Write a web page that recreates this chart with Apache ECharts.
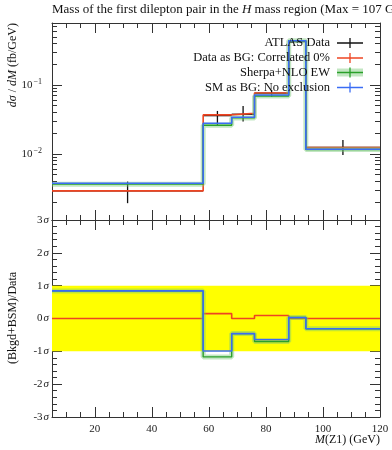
<!DOCTYPE html>
<html><head><meta charset="utf-8">
<script src="https://cdn.jsdelivr.net/npm/echarts@6/dist/echarts.min.js"></script>
<style>html,body{margin:0;padding:0;background:#fff}#c{width:392px;height:450px}</style>
</head><body><div id="c"></div>
<script>
// ---- data ----
const binEdges = [5, 58, 68, 76, 88, 94, 120];
const dataCentres = [31.5, 63, 72, 82, 91, 107];
const dataVals = [0.00291, 0.0359, 0.0376, 0.0758, 0.425, 0.0124];
const dataHi   = [0.00397, 0.0420, 0.0496, 0.0846, 0.445, 0.0159];
const dataLo   = [0.00193, 0.0263, 0.0294, 0.0677, 0.405, 0.00966];
const redVals   = [0.00291, 0.0368, 0.0389, 0.0765, 0.438, 0.01233];
const greenVals = [0.00364, 0.0261, 0.0333, 0.0693, 0.438, 0.0116];
const blueVals  = [0.00376, 0.0279, 0.0341, 0.0716, 0.438, 0.0117];
const redRatio   = [0, 0.15, 0, 0.09, 0, 0];
const greenRatio = [0.84, -1.17, -0.46, -0.70, 0.03, -0.31];
const blueRatio  = [0.84, -0.99, -0.46, -0.64, 0.03, -0.31];
const xMajorTicks = [20, 40, 60, 80, 100, 120];
const yMajorTicksLog = [0.01, 0.1];
const yMajorTicksRatio = [-3, -2, -1, 0, 1, 2, 3];
const legendNames = ['ATLAS Data', 'Data as BG: Correlated 0%', 'Sherpa+NLO EW', 'SM as BG: No exclusion'];

const xMinorTicks = [];
for (let v = 5; v <= 120; v += 5) if (xMajorTicks.indexOf(v) < 0) xMinorTicks.push(v);
const yMinorTicksLog = [];
[0.001, 0.01, 0.1].forEach(d => { for (let k = 2; k <= 9; k++) { const v = d * k; if (v < 0.79 && v > 0.0011) yMinorTicksLog.push(+v.toPrecision(3)); } });
const yMinorTicksRatio = [];
for (let i = -15; i <= 15; i++) if (i % 5 !== 0) yMinorTicksRatio.push(i / 5);

const RED = '#ee4422', BLUE = '#3a6cf4', GREEN = '#2aa02a', LGREEN = 'rgba(120,200,120,0.45)';
const FRAME = '#333';
const FONT = 'Liberation Serif';

function stepData(vals) {
  return binEdges.map((e, i) => [e, vals[Math.min(i, vals.length - 1)]]);
}

function xAx(grid, pos, ticks, len, line, labels) {
  return {
    gridIndex: grid, type: 'value', min: 5, max: 120, position: pos,
    axisLine: { show: line, onZero: false, lineStyle: { color: FRAME, width: 1 } },
    axisTick: { show: true, inside: true, length: len, customValues: ticks, lineStyle: { color: FRAME, width: 1 } },
    axisLabel: labels ? { show: true, customValues: xMajorTicks, color: '#222', fontFamily: FONT, fontSize: 11, margin: 7 } : { show: false },
    splitLine: { show: false }
  };
}
function yLogAx(pos, ticks, len, line, labels) {
  return {
    gridIndex: 0, type: 'log', logBase: 10, min: 0.0011, max: 0.792, position: pos,
    axisLine: { show: line, lineStyle: { color: FRAME, width: 1 } },
    axisTick: { show: true, inside: true, length: len, customValues: ticks, lineStyle: { color: FRAME, width: 1 } },
    axisLabel: labels ? {
      show: true, customValues: yMajorTicksLog, margin: 10, color: '#222', fontFamily: FONT,
      formatter: v => '{b|10}{s|\u2212' + Math.abs(Math.round(Math.log10(v))) + '}',
      rich: { b: { fontSize: 11, fontFamily: FONT, color: '#222' }, s: { fontSize: 8, fontFamily: FONT, color: '#222', padding: [0, 0, 7, 1] } }
    } : { show: false },
    splitLine: { show: false }
  };
}
function yRatAx(pos, ticks, len, line, labels) {
  return {
    gridIndex: 1, type: 'value', min: -3, max: 3, position: pos,
    axisLine: { show: line, onZero: false, lineStyle: { color: FRAME, width: 1 } },
    axisTick: { show: true, inside: true, length: len, customValues: ticks, lineStyle: { color: FRAME, width: 1 } },
    axisLabel: labels ? {
      show: true, customValues: yMajorTicksRatio, margin: 3, color: '#222',
      formatter: v => '{n|' + (v < 0 ? '-' : '') + Math.abs(v) + '}{i|\u03c3}',
      rich: { n: { fontSize: 11, fontFamily: FONT, color: '#222' }, i: { fontSize: 11, fontFamily: FONT, fontStyle: 'italic', color: '#222', padding: [0, 0, 0, 1] } }
    } : { show: false },
    splitLine: { show: false }
  };
}

const xAxes = [
  xAx(0, 'bottom', xMajorTicks, 10, true, false),
  xAx(0, 'bottom', xMinorTicks, 5, false, false),
  xAx(0, 'top', xMajorTicks, 10, true, false),
  xAx(0, 'top', xMinorTicks, 5, false, false),
  xAx(1, 'bottom', xMajorTicks, 10, true, true),
  xAx(1, 'bottom', xMinorTicks, 5, false, false),
  xAx(1, 'top', xMajorTicks, 10, true, false),
  xAx(1, 'top', xMinorTicks, 5, false, false)
];
const yAxes = [
  yLogAx('left', yMajorTicksLog, 10, true, true),
  yLogAx('left', yMinorTicksLog, 5, false, false),
  yLogAx('right', yMajorTicksLog, 10, true, false),
  yLogAx('right', yMinorTicksLog, 5, false, false),
  yRatAx('left', yMajorTicksRatio, 10, true, true),
  yRatAx('left', yMinorTicksRatio, 5, false, false),
  yRatAx('right', yMajorTicksRatio, 10, true, false),
  yRatAx('right', yMinorTicksRatio, 5, false, false)
];

function stepSeries(vals, color, xi, yi, width, z) {
  return {
    type: 'line', xAxisIndex: xi, yAxisIndex: yi, step: 'end', data: stepData(vals),
    symbol: 'none', lineStyle: { color: color, width: width }, z: z, silent: true
  };
}

const errData = dataCentres.map((c, i) => [c, dataVals[i], dataLo[i], dataHi[i], binEdges[i], binEdges[i + 1]]);

const series = [
  {
    type: 'custom', xAxisIndex: 0, yAxisIndex: 0, data: errData, z: 3,
    renderItem: (params, api) => {
      const xc = api.value(0), y = api.value(1), lo = api.value(2), hi = api.value(3), xl = api.value(4), xr = api.value(5);
      const pLo = api.coord([xc, lo]), pHi = api.coord([xc, hi]);
      const pL = api.coord([xl, y]), pR = api.coord([xr, y]);
      const st = { stroke: '#111', lineWidth: 1.3 };
      return { type: 'group', children: [
        { type: 'line', shape: { x1: pLo[0], y1: pLo[1], x2: pHi[0], y2: pHi[1] }, style: st },
        { type: 'line', shape: { x1: pL[0], y1: pL[1], x2: pR[0], y2: pR[1] }, style: st }
      ] };
    }
  },
  stepSeries(redVals, RED, 0, 0, 1.6, 4),
  stepSeries(greenVals, LGREEN, 0, 0, 5, 5),
  stepSeries(greenVals, GREEN, 0, 0, 1.4, 6),
  stepSeries(blueVals, BLUE, 0, 0, 1.6, 7),
  Object.assign(stepSeries(redRatio, RED, 4, 4, 1.6, 4), {
    markArea: { silent: true, itemStyle: { color: '#ffff00', opacity: 1 }, data: [[{ yAxis: -1 }, { yAxis: 1 }]] }
  }),
  stepSeries(greenRatio, LGREEN, 4, 4, 5, 5),
  stepSeries(greenRatio, GREEN, 4, 4, 1.4, 6),
  stepSeries(blueRatio, BLUE, 4, 4, 1.6, 7)
];

// legend + text
const legY = [43, 58, 72.5, 87.5];
const legColors = ['#111', RED, GREEN, BLUE];
const graphic = [
  { type: 'text', left: 52, top: 3, style: { text: '{n|Mass of the first dilepton pair in the }{i|H}{n| mass region (Max = 107 GeV)}',
      rich: { n: { fontSize: 13, fontFamily: FONT, fill: '#111' }, i: { fontSize: 13, fontFamily: FONT, fontStyle: 'italic', fill: '#111' } } } },
  { type: 'text', x: 13, y: 23, rotation: Math.PI / 2, style: { text: '{i|d\u03c3} / {i|dM} {n|(fb/GeV)}', align: 'right', verticalAlign: 'middle',
      font: '12px "' + FONT + '"', fill: '#111',
      rich: { i: { fontSize: 12, fontFamily: FONT, fontStyle: 'italic', fill: '#111' }, n: { fontSize: 12, fontFamily: FONT, fill: '#111' } } } },
  { type: 'text', x: 13, y: 318, rotation: Math.PI / 2, style: { text: '(Bkgd+BSM)/Data', align: 'center', verticalAlign: 'middle',
      font: '12px "' + FONT + '"', fill: '#111' } },
  { type: 'text', x: 380, y: 440, style: { text: '{i|M}{n|(Z1) (GeV)}', align: 'right', verticalAlign: 'middle',
      rich: { i: { fontSize: 12, fontFamily: FONT, fontStyle: 'italic', fill: '#111' }, n: { fontSize: 12, fontFamily: FONT, fill: '#111' } } } }
];
legendNames.forEach((name, i) => {
  const y = legY[i];
  graphic.push({ type: 'text', x: 330, y: y, z: 20, style: { text: name, align: 'right', verticalAlign: 'middle', font: '12.5px "' + FONT + '"', fill: '#111' } });
  if (i === 2) graphic.push({ type: 'rect', z: 20, shape: { x: 337, y: y - 4, width: 26, height: 8 }, style: { fill: LGREEN } });
  graphic.push({ type: 'line', z: 21, shape: { x1: 337, y1: y, x2: 363, y2: y }, style: { stroke: legColors[i], lineWidth: 1.5 } });
  graphic.push({ type: 'line', z: 21, shape: { x1: 350, y1: y - 5, x2: 350, y2: y + 5 }, style: { stroke: legColors[i], lineWidth: 1.3 } });
});

const chart = echarts.init(document.getElementById('c'), null, { renderer: 'canvas' });
chart.setOption({
  animation: false,
  backgroundColor: '#fff',
  grid: [{ left: 52, right: 12, top: 23, height: 197 }, { left: 52, right: 12, top: 220, height: 197 }],
  xAxis: xAxes, yAxis: yAxes, series: series, graphic: graphic
});
</script></body></html>
